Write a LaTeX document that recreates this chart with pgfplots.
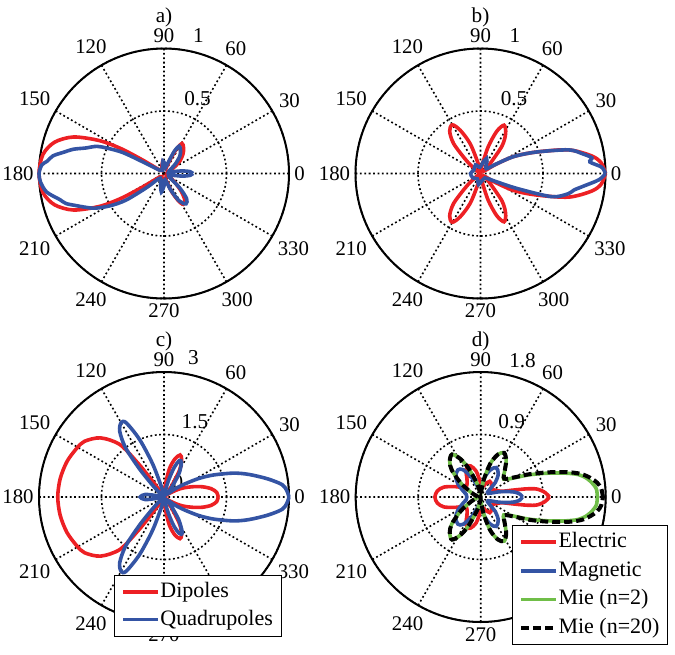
\documentclass[border=0pt]{standalone}
\usepackage{fontspec}
\setmainfont{Liberation Serif}
\usepackage{pgfplots}
\pgfplotsset{compat=1.18}
\usepgfplotslibrary{polar}
\definecolor{mred}{RGB}{237,32,36}
\definecolor{mblue}{RGB}{52,84,164}
\definecolor{mgreen}{RGB}{112,190,72}
\tikzset{ptitle/.style={anchor=base, inner sep=0pt}}
\pgfplotsset{
  mypolar/.style={
    scale only axis, width=125pt, height=125pt,
    anchor=origin, clip=false,
    ymin=0,
    xtick={0,30,...,330},
    xticklabels={0,30,60,90,120,150,180,210,240,270,300,330},
    yticklabels={},
    major tick length=0pt,
    tick label style={font=\fontsize{10.4}{12}\selectfont, inner sep=2.5pt},
    xmajorgrids, ymajorgrids,
    major grid style={black, line width=0.8pt, dash pattern=on 0.9pt off 1.3pt},
    axis line style={black, line width=1pt},
    y axis line style={draw=none},
    every axis plot/.append style={smooth, line width=1.8pt},
    legend style={font=\fontsize{11}{12}\selectfont, draw=black, line width=0.5pt,
      fill=white, inner xsep=3.5pt, inner ysep=2.5pt, cells={anchor=west},
      nodes={inner sep=0.6pt, text height=8pt, text depth=2.5pt},
      /tikz/every even column/.append style={column sep=1.5pt}},
    legend cell align=left,
  },
}
\begin{document}
\begin{tikzpicture}[font=\fontsize{10.6}{12}\selectfont]
\useasboundingbox (0,0) rectangle (337.5pt,-327pt);
% ---------------- a)
\begin{polaraxis}[mypolar, at={(82pt,-86.75pt)}, ymax=1, ytick={0.5,1}]
\node[ptitle] at (axis cs:90,1.205) {a)};
\node at (axis cs:66,0.66) {0.5};
\node at (axis cs:76,1.135) {1};
\addplot[mred] coordinates {(0,0.02) (20,0.03) (30,0.08) (38,0.16) (46,0.22) (53,0.26) (59,0.28) (63,0.22) (66,0.12) (72,0.04) (88,0.05) (100,0.08) (110,0.05) (125,0.03) (140,0.04) (146,0.1) (148,0.22) (150,0.4) (153,0.58) (158,0.78) (164,0.91) (171,0.98) (180,1.0) (189,0.98) (196,0.91) (202,0.78) (207,0.58) (210,0.4) (212,0.22) (214,0.1) (220,0.04) (235,0.03) (250,0.06) (258,0.08) (268,0.05) (282,0.04) (288,0.06) (293,0.16) (298,0.25) (302,0.29) (308,0.27) (314,0.2) (320,0.12) (328,0.05) (340,0.02) (360,0.02)};
\addplot[mblue] coordinates {(0,0.23) (4,0.21) (8,0.15) (12,0.07) (20,0.04) (32,0.06) (40,0.12) (48,0.19) (55,0.23) (61,0.25) (65,0.2) (69,0.1) (76,0.05) (86,0.08) (95,0.1) (103,0.06) (120,0.03) (140,0.04) (148,0.08) (151,0.18) (153,0.37) (156,0.5) (158,0.58) (162,0.66) (165,0.75) (168,0.82) (171,0.9) (174,0.94) (176,0.98) (180,1.0) (184,0.99) (189,0.95) (194,0.86) (197,0.82) (200,0.75) (204,0.67) (207,0.61) (211,0.5) (215,0.37) (219,0.18) (224,0.06) (240,0.05) (252,0.09) (262,0.15) (270,0.1) (280,0.05) (292,0.14) (299,0.25) (306,0.30) (312,0.27) (317,0.18) (322,0.08) (332,0.04) (345,0.05) (352,0.15) (356,0.21) (360,0.23)};
\end{polaraxis}
% ---------------- b)
\begin{polaraxis}[mypolar, at={(240.25pt,-86.75pt)}, ymax=1, ytick={0.5,1}]
\node[ptitle] at (axis cs:90,1.205) {b)};
\node at (axis cs:66,0.66) {0.5};
\node at (axis cs:76,1.14) {1};
\addplot[mred] coordinates {(0,1.0) (5,0.97) (9,0.90) (15,0.73) (21,0.48) (27,0.30) (31,0.14) (35,0.04) (45,0.1) (52,0.28) (58,0.38) (64,0.43) (69,0.36) (74,0.22) (80,0.06) (90,0.01) (103,0.08) (109,0.25) (115,0.38) (120,0.45) (126,0.42) (132,0.32) (138,0.14) (145,0.03) (180,0.01) (215,0.03) (222,0.14) (228,0.32) (234,0.42) (240,0.45) (245,0.38) (251,0.25) (257,0.08) (270,0.01) (280,0.06) (286,0.22) (291,0.36) (296,0.43) (302,0.38) (308,0.28) (315,0.1) (325,0.04) (329,0.14) (333,0.30) (339,0.48) (345,0.73) (351,0.90) (355,0.97) (360,1.0)};
\addplot[mblue] coordinates {(0,1.0) (3,0.97) (6,0.88) (8,0.9) (11,0.83) (15,0.73) (21,0.48) (27,0.30) (31,0.15) (40,0.06) (60,0.10) (68,0.13) (78,0.09) (95,0.05) (120,0.08) (150,0.06) (180,0.08) (210,0.07) (240,0.05) (260,0.09) (280,0.06) (315,0.05) (325,0.07) (333,0.15) (338,0.33) (342,0.60) (347,0.72) (350,0.76) (353,0.83) (357,0.95) (360,1.0)};
\end{polaraxis}
% ---------------- c)
\begin{polaraxis}[mypolar, at={(82pt,-248.5pt)}, ymax=3, ytick={1.5,3},
  xticklabels={0,30,60,90,120,150,180,210,240,270,{},330},
  legend style={at={(axis description cs:0.30,0.188)}, anchor=north west, row sep=2pt}]
\node[ptitle] at (axis cs:90,3.615) {c)};
\node at (axis cs:67.6,1.95) {1.5};
\node at (axis cs:78,3.41) {3};
\node at (axis cs:47,0.49) {0};
\addplot[mred] coordinates {(0,1.30) (5,1.27) (10,1.15) (15,0.95) (20,0.72) (25,0.52) (29,0.35) (35,0.15) (45,0.06) (55,0.3) (60,0.75) (65,1.0) (69,1.08) (74,0.95) (79,0.7) (83,0.35) (88,0.08) (105,0.03) (122,0.1) (126,0.5) (127.5,1.0) (130,1.64) (137,2.08) (145,2.33) (151,2.40) (160,2.48) (170,2.53) (180,2.55) (190,2.53) (200,2.48) (209,2.40) (215,2.33) (223,2.08) (230,1.64) (232.5,1.0) (234,0.5) (238,0.1) (255,0.03) (272,0.08) (277,0.35) (281,0.7) (286,0.95) (291,1.07) (295,1.0) (300,0.75) (305,0.3) (315,0.06) (325,0.15) (331,0.35) (335,0.52) (340,0.72) (345,0.95) (350,1.15) (355,1.27) (360,1.30)};
\addlegendentry{Dipoles}
\addplot[mblue] coordinates {(0,3.0) (3,2.95) (6,2.85) (10,2.52) (15,2.10) (19,1.76) (24,1.30) (28,0.95) (32,0.6) (36,0.35) (42,0.12) (50,0.25) (57,0.65) (63,0.92) (67,0.95) (71,0.75) (75,0.4) (80,0.1) (95,0.05) (105,0.3) (109,0.85) (113,1.5) (117,2.0) (120,2.06) (124,1.9) (128,1.5) (131,0.9) (134,0.4) (140,0.1) (165,0.1) (172,0.45) (180,0.57) (188,0.45) (195,0.1) (220,0.1) (226,0.4) (229,0.9) (232,1.5) (236,1.9) (240,2.06) (243,2.0) (247,1.5) (251,0.85) (255,0.3) (265,0.05) (280,0.1) (285,0.4) (289,0.75) (293,0.95) (297,0.97) (303,0.65) (310,0.25) (318,0.12) (324,0.35) (328,0.6) (332,0.95) (336,1.30) (341,1.76) (345,2.10) (350,2.52) (354,2.85) (357,2.95) (360,3.0)};
\addlegendentry{Quadrupoles}
\end{polaraxis}
% ---------------- d)
\begin{polaraxis}[mypolar, at={(240.35pt,-248.5pt)}, ymax=1.8, ytick={0.9,1.8},
  xticklabels={0,30,60,90,120,150,180,210,240,270,{},{}},
  legend style={at={(axis description cs:0.624,0.388)}, anchor=north west, row sep=2.6pt}]
\node[ptitle] at (axis cs:90,2.169) {d)};
\node at (axis cs:67.6,1.17) {0.9};
\node at (axis cs:73,2.06) {1.8};
\addplot[mred] coordinates {(0,0.99) (4,0.93) (8,0.82) (10,0.68) (12,0.48) (15,0.32) (22,0.25) (35,0.2) (50,0.24) (60,0.26) (70,0.2) (80,0.15) (90,0.2) (100,0.38) (108,0.47) (114,0.48) (120,0.42) (128,0.32) (140,0.26) (150,0.27) (158,0.40) (165,0.55) (172,0.63) (180,0.66) (188,0.63) (195,0.55) (202,0.40) (210,0.27) (220,0.26) (232,0.32) (240,0.42) (246,0.48) (252,0.47) (260,0.38) (270,0.2) (280,0.15) (290,0.2) (300,0.26) (310,0.24) (325,0.2) (338,0.25) (345,0.32) (348,0.48) (350,0.68) (352,0.82) (356,0.93) (360,0.99)};
\addlegendentry{Electric}
\addplot[mblue] coordinates {(0,0.60) (4,0.57) (8,0.50) (12,0.38) (16,0.27) (22,0.15) (35,0.12) (45,0.30) (53,0.42) (62,0.48) (70,0.42) (78,0.30) (88,0.12) (100,0.12) (115,0.32) (123,0.47) (130,0.51) (140,0.47) (150,0.38) (162,0.26) (170,0.21) (180,0.20) (190,0.21) (198,0.26) (210,0.38) (220,0.47) (230,0.51) (237,0.47) (245,0.32) (260,0.12) (272,0.12) (282,0.30) (290,0.42) (298,0.48) (307,0.42) (315,0.30) (325,0.12) (338,0.15) (344,0.27) (348,0.38) (352,0.50) (356,0.57) (360,0.60)};
\addlegendentry{Magnetic}
\addplot[mgreen] coordinates {(0,1.68) (4,1.67) (7,1.62) (10,1.55) (13,1.44) (16,1.25) (20,1.00) (25,0.75) (30,0.55) (38,0.42) (48,0.52) (55,0.64) (62,0.72) (68,0.66) (74,0.50) (80,0.25) (88,0.05) (95,0.05) (105,0.2) (113,0.45) (118,0.62) (124,0.74) (131,0.68) (137,0.57) (145,0.35) (155,0.15) (170,0.05) (180,0.04) (190,0.05) (205,0.15) (215,0.35) (223,0.57) (229,0.68) (236,0.74) (242,0.62) (247,0.45) (255,0.2) (265,0.05) (272,0.05) (280,0.25) (286,0.50) (292,0.66) (298,0.72) (305,0.64) (312,0.52) (322,0.42) (330,0.55) (335,0.75) (340,1.00) (344,1.25) (347,1.44) (350,1.55) (353,1.62) (356,1.67) (360,1.68)};
\addlegendentry{Mie (n=2)}
\addplot[black, line width=2pt, dash pattern=on 4pt off 2pt] coordinates {(0,1.76) (4,1.74) (7,1.69) (10,1.60) (13,1.48) (16,1.30) (20,1.04) (25,0.78) (30,0.57) (38,0.43) (48,0.52) (55,0.64) (62,0.72) (68,0.66) (74,0.50) (80,0.25) (88,0.05) (95,0.05) (105,0.2) (113,0.45) (118,0.62) (124,0.74) (131,0.68) (137,0.57) (145,0.35) (155,0.15) (170,0.05) (180,0.04) (190,0.05) (205,0.15) (215,0.35) (223,0.57) (229,0.68) (236,0.74) (242,0.62) (247,0.45) (255,0.2) (265,0.05) (272,0.05) (280,0.25) (286,0.50) (292,0.66) (298,0.72) (305,0.64) (312,0.52) (322,0.43) (330,0.57) (335,0.78) (340,1.04) (344,1.30) (347,1.48) (350,1.60) (353,1.69) (356,1.74) (360,1.76)};
\addlegendentry{Mie (n=20)}
\end{polaraxis}
\end{tikzpicture}
\end{document}
